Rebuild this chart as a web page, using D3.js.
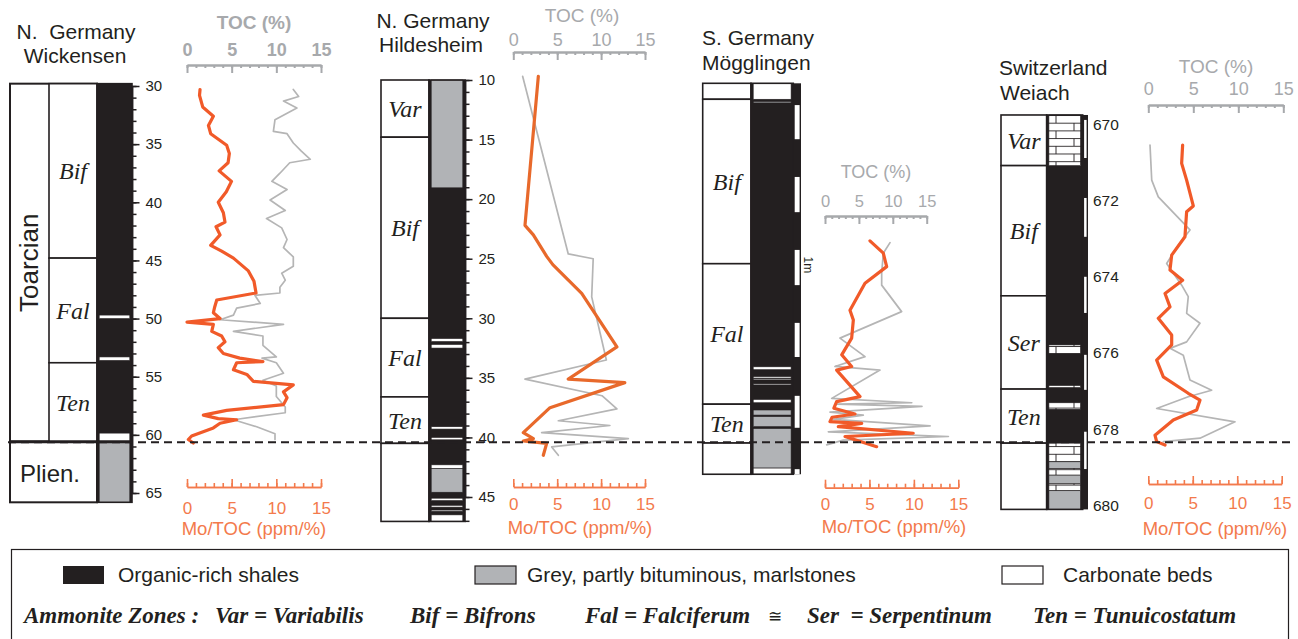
<!DOCTYPE html>
<html>
<head>
<meta charset="utf-8">
<script src="https://cdn.jsdelivr.net/npm/d3@7"></script>
<style>
  body { margin: 0; background: #fff; }
  svg { display: block; }
</style>
</head>
<body>
<div id="chart"></div>
<script>
// ---------------- data ----------------
// lithology / zone rows are [top depth, base depth, type or label]
// curves are [depth, value]

const tocTicks = [0, 5, 10, 15];

// N. Germany, Wickensen (depth in m)
const wickStages = [[29.8, 60.6, "Toarcian"], [60.6, 65.8, "Plien."]];
const wickZones = [[29.8, 44.8, "Bif"], [44.8, 53.8, "Fal"], [53.8, 60.6, "Ten"]];
const wickLitho = [[29.8, 49.7, "shale"], [49.7, 50.0, "carb"], [50.0, 53.3, "shale"], [53.3, 53.6, "carb"],
  [53.6, 59.85, "shale"], [59.85, 60.6, "carb"], [60.6, 65.8, "marl"]];
const wickDepthMajor = [30, 35, 40, 45, 50, 55, 60, 65];
const wickMo = [[30.3, 1.46], [30.8, 1.4], [31.8, 1.76], [32.6, 2.95], [33.4, 2.4], [34.1, 2.65], [35.1, 4.44],
  [35.8, 4.74], [36.6, 4.6], [37.3, 3.6], [38.2, 4.98], [39.1, 4.4], [40.0, 3.5], [40.9, 4.07], [41.7, 4.25],
  [42.1, 3.25], [42.8, 3.7], [43.7, 2.65], [44.2, 3.88], [44.8, 5.2], [45.9, 6.87], [46.8, 7.5], [47.8, 7.73],
  [48.4, 3.33], [49.0, 3.1], [49.5, 2.95], [50.0, 3.7], [50.3, 0], [50.5, 2.95], [51.1, 2.77], [51.5, 3.88],
  [52.0, 4.25], [52.5, 3.5], [53.0, 4.07], [53.4, 5.9], [53.7, 8.5], [53.8, 5.56], [54.4, 5.2], [54.8, 6.7],
  [55.4, 7.43], [55.7, 11.9], [56.3, 10.8], [56.8, 11.2], [57.4, 10.8], [57.9, 4.44], [58.3, 1.83], [58.6, 3.5],
  [58.7, 5.56], [59.0, 3.7], [59.4, 2.95], [60.1, 0.52], [60.4, 0.15], [60.7, 0.7]];
const wickToc = [[30.3, 11.9], [30.9, 12.5], [31.3, 10.8], [31.9, 12.3], [32.9, 9.85], [33.9, 9.67], [34.1, 11.2],
  [34.9, 11.9], [35.6, 12.8], [36.3, 13.8], [36.6, 11.5], [37.5, 10.4], [38.2, 9.5], [38.9, 11.2], [39.8, 9.3],
  [40.7, 11.0], [41.4, 8.9], [42.2, 10.6], [43.2, 11.2], [43.9, 10.8], [44.7, 11.9], [45.5, 11.9], [46.1, 10.6],
  [46.7, 11.0], [47.3, 10.4], [47.8, 10.4], [48.0, 7.6], [48.7, 8.2], [49.1, 5.56], [49.7, 5.2], [50.1, 3.7],
  [50.5, 10.8], [51.1, 5.2], [51.5, 8.5], [52.3, 8.5], [53.3, 10.0], [53.4, 8.4], [53.8, 10.0], [54.7, 10.8],
  [55.3, 8.5], [55.8, 10.0], [56.7, 10.0], [57.6, 11.0], [58.1, 11.0], [58.7, 5.2], [59.3, 7.8], [59.9, 9.85],
  [60.4, 9.85]];

// N. Germany, Hildesheim (depth in m)
const hildZones = [[10, 14.8, "Var"], [14.8, 30, "Bif"], [30, 36.6, "Fal"], [36.6, 40.5, "Ten"], [40.5, 47.05, ""]];
const hildLitho = [[10, 19.05, "marl"], [19.05, 31.7, "shale"], [31.7, 31.95, "carb"], [31.95, 32.2, "shale"],
  [32.2, 32.5, "carb"], [32.5, 39.1, "shale"], [39.1, 39.3, "carb"], [39.3, 40.0, "shale"], [40.0, 40.2, "carb"],
  [40.2, 42.3, "shale"], [42.3, 42.6, "carb"], [42.6, 44.6, "marl"], [44.6, 45.1, "shale"], [45.1, 45.3, "carb"],
  [45.3, 45.7, "shale"], [45.7, 45.85, "carb"], [45.85, 46.1, "shale"], [46.1, 46.2, "carb"], [46.2, 46.5, "shale"],
  [46.5, 47.05, "carb"]];
const hildDepthMajor = [10, 15, 20, 25, 30, 35, 40, 45];
const hildMo = [[9.7, 2.85], [22.2, 1.33], [23.0, 2.28], [24.8, 3.8], [25.5, 4.5], [27.9, 7.79], [32.4, 11.8],
  [35.1, 6.26], [35.4, 12.7], [37.5, 4.18], [39.6, 1.14], [40.1, 2.28], [40.3, 1.14], [40.5, 3.8], [41.5, 3.42]];
const hildToc = [[9.7, 1.07], [24.6, 6.26], [25.0, 9.1], [28.2, 8.93], [33.5, 10.6], [35.1, 1.33], [36.5, 10.1],
  [37.6, 11.8], [38.6, 5.13], [39.0, 11.0], [39.6, 3.23], [40.1, 13.1], [40.8, 4.37], [41.5, 5.13]];

// S. Germany, Mögglingen (m below top of log)
const mogZones = [[0, 0.44, ""], [0.44, 4.97, "Bif"], [4.97, 8.84, "Fal"], [8.84, 9.91, "Ten"], [9.91, 10.77, ""]];
const mogLitho = [[0, 0.44, "carb"], [0.44, 0.5, "shale"], [0.5, 0.54, "marl"], [0.54, 7.81, "shale"],
  [7.81, 7.89, "carb"], [7.89, 8.08, "shale"], [8.08, 8.12, "carb"], [8.12, 8.14, "shale"], [8.14, 8.17, "carb"],
  [8.17, 8.28, "shale"], [8.28, 8.31, "carb"], [8.31, 8.71, "shale"], [8.71, 8.8, "carb"], [8.8, 9.0, "shale"],
  [9.0, 9.14, "marl"], [9.14, 9.18, "shale"], [9.18, 9.46, "marl"], [9.46, 9.51, "shale"], [9.51, 10.6, "marl"],
  [10.6, 10.77, "carb"]];
const mogScaleBar = [[0.6, 1.54], [2.58, 3.55], [4.59, 5.56], [6.6, 7.54], [8.61, 9.49], [10.63, 10.77]];
const mogMo = [[4.34, 5.06], [4.68, 6.56], [5.05, 6.94], [5.51, 4.5], [6.25, 2.81], [6.52, 3.19], [7.02, 3.0],
  [7.48, 1.88], [7.8, 3.0], [7.9, 1.31], [8.63, 3.94], [8.77, 1.31], [8.95, 1.0], [9.11, 3.37], [9.2, 0.8],
  [9.32, 0.56], [9.37, 4.13], [9.46, 1.5], [9.64, 9.93], [9.73, 2.25], [10.01, 5.81]];
const mogToc = [[4.39, 9.59], [4.68, 8.6], [5.23, 8.36], [5.56, 8.36], [6.29, 11.3], [7.02, 2.21], [7.53, 5.9],
  [7.8, 1.47], [7.9, 8.11], [8.68, 0.99], [8.8, 12.8], [8.84, 1.73], [8.9, 14.3], [9.06, 0.74], [9.14, 5.65],
  [9.26, 1.22], [9.44, 15.5], [9.6, 0.49], [9.73, 18.2], [9.83, 2.7], [9.96, 0.25]];

// Switzerland, Weiach (depth in m)
const weiZones = [[669.75, 671.08, "Var"], [671.08, 674.5, "Bif"], [674.5, 676.95, "Ser"], [676.95, 678.37, "Ten"],
  [678.37, 680.11, ""]];
const weiLitho = [[669.75, 671.08, "carb"], [671.08, 675.79, "shale"], [675.79, 676.01, "carb"],
  [676.01, 676.85, "shale"], [676.85, 676.91, "carb"], [676.91, 677.31, "shale"], [677.31, 677.48, "carb"],
  [677.48, 678.37, "shale"], [678.37, 678.86, "carb"], [678.86, 679.04, "marl"], [679.04, 679.21, "carb"],
  [679.21, 679.44, "marl"], [679.44, 679.62, "carb"], [679.62, 680.11, "marl"]];
const weiScaleBar = [[669.88, 670.88], [671.93, 672.95], [674.0, 674.95], [676.05, 676.97], [678.07, 679.05]];
const weiDepthLabels = [670, 672, 674, 676, 678, 680];
const weiMo = [[670.54, 3.86], [671.02, 3.75], [671.46, 4.31], [672.14, 5.06], [672.29, 4.31], [672.95, 4.12],
  [673.43, 2.63], [673.82, 2.44], [674.09, 3.86], [674.44, 1.88], [674.79, 2.44], [675.09, 1.12], [675.53, 2.63],
  [675.79, 2.63], [676.19, 0.94], [676.63, 1.69], [677.06, 4.49], [677.24, 5.81], [677.5, 5.44], [677.76, 2.81],
  [678.16, 0.75], [678.33, 0.94], [678.42, 1.88]];
const weiToc = [[670.54, 0.19], [671.46, 0.38], [671.9, 1.11], [672.77, 4.63], [673.17, 3.33], [673.65, 2.04],
  [674.22, 3.71], [674.52, 4.44], [674.96, 4.26], [675.22, 5.74], [675.71, 4.26], [675.88, 2.41], [676.06, 3.89],
  [676.71, 4.63], [676.98, 7.04], [677.15, 4.44], [677.46, 0.93], [677.81, 9.63], [678.24, 5.74], [678.33, 1.67]];

const legendLith = [["shale", "Organic-rich shales"], ["marl", "Grey, partly bituminous, marlstones"],
  ["carb", "Carbonate beds"]];
const legendZones = ["Ammonite Zones :", "Var = Variabilis", "Bif = Bifrons", "Fal = Falciferum", "\u2245",
  "Ser\u00a0 = Serpentinum", "Ten = Tunuicostatum"];

// ---------------- style ----------------
const INK = "#231f20";
const FILL = { shale: "#231f20", marl: "#b1b3b6", carb: "#ffffff" };
const GREY_AXIS = "#a7a9ac", GREY_LINE = "#b5b5b5";
const ORANGE = "#f15a29", ORANGE_AXIS = "#f37a4c";
const SANS = "'Liberation Sans', Arial, sans-serif";
const SERIF = "'Liberation Serif', 'Times New Roman', serif";

const svg = d3.select("#chart").append("svg").attr("width", 1298).attr("height", 639);

// brick pattern for the Weiach carbonates
const brick = svg.append("defs").append("pattern")
  .attr("id", "brick").attr("patternUnits", "userSpaceOnUse")
  .attr("width", 36).attr("height", 15.4).attr("patternTransform", "translate(1047,115)");
brick.append("rect").attr("width", 36).attr("height", 15.4).attr("fill", "#fff");
brick.append("path")
  .attr("d", "M0,0.5H36M0,8.2H36M9,0.5V8.2M27,8.2V15.4")
  .attr("stroke", INK).attr("stroke-width", 0.9).attr("fill", "none");

// ---------------- helpers ----------------
function label(x, y, str, opt) {
  opt = opt || {};
  return svg.append("text")
    .attr("x", x).attr("y", y)
    .attr("text-anchor", opt.anchor || "start")
    .attr("font-family", opt.family || SANS)
    .attr("font-size", opt.size || 21)
    .attr("font-weight", opt.weight || null)
    .attr("font-style", opt.style || null)
    .attr("fill", opt.color || INK)
    .text(str);
}

function drawZones(zones, y, x0, x1) {
  const g = svg.append("g");
  g.selectAll("rect").data(zones).join("rect")
    .attr("x", x0).attr("width", x1 - x0)
    .attr("y", d => y(d[0])).attr("height", d => y(d[1]) - y(d[0]))
    .attr("fill", "#fff").attr("stroke", INK).attr("stroke-width", 1.6);
  g.selectAll("text").data(zones.filter(d => d[2])).join("text")
    .attr("x", (x0 + x1) / 2).attr("y", d => y((d[0] + d[1]) / 2))
    .attr("dy", "0.35em").attr("text-anchor", "middle")
    .attr("font-family", SERIF).attr("font-style", "italic").attr("font-size", 24)
    .attr("fill", INK)
    .text(d => d[2]);
}

function drawLitho(litho, y, x0, x1, carbFill) {
  const g = svg.append("g");
  const top = litho[0][0], base = litho[litho.length - 1][1];
  g.append("rect").attr("x", x0).attr("y", y(top)).attr("width", x1 - x0).attr("height", y(base) - y(top))
    .attr("fill", FILL.shale);
  g.selectAll("rect.bed").data(litho.filter(d => d[2] !== "shale")).join("rect")
    .attr("class", "bed")
    .attr("x", x0 + 2.2).attr("width", x1 - x0 - 4.4)
    .attr("y", d => y(d[0])).attr("height", d => Math.max(1, y(d[1]) - y(d[0])))
    .attr("fill", d => d[2] === "carb" ? carbFill : FILL[d[2]])
    .attr("stroke", INK).attr("stroke-width", 0.6);
  g.append("rect").attr("x", x0).attr("y", y(top)).attr("width", x1 - x0).attr("height", y(base) - y(top))
    .attr("fill", "none").attr("stroke", INK).attr("stroke-width", 1.6);
}

function drawScaleBar(bars, y, x0, x1, top, base) {
  const g = svg.append("g");
  g.append("rect").attr("x", x0).attr("y", y(top)).attr("width", x1 - x0).attr("height", y(base) - y(top))
    .attr("fill", INK);
  g.selectAll("rect.w").data(bars).join("rect").attr("class", "w")
    .attr("x", x0 + 1.4).attr("width", x1 - x0 - 2.8)
    .attr("y", d => y(d[0])).attr("height", d => y(d[1]) - y(d[0]))
    .attr("fill", "#fff");
}

function depthAxis(y, xPos, minorVals, majorVals) {
  const a1 = svg.append("g").attr("transform", `translate(${xPos},0)`)
    .call(d3.axisRight(y).tickValues(minorVals).tickSize(4.5).tickSizeOuter(0).tickFormat(""));
  const a2 = svg.append("g").attr("transform", `translate(${xPos},0)`)
    .call(d3.axisRight(y).tickValues(majorVals).tickSize(7.5).tickSizeOuter(0).tickPadding(6));
  [a1, a2].forEach(a => a.selectAll("path, line").attr("stroke", INK).attr("stroke-width", 1.5));
  a2.selectAll("text").attr("font-family", SANS).attr("font-size", 15).attr("fill", INK);
}

function tocAxis(x, yPos, pad, bold, size) {
  const a1 = svg.append("g").attr("transform", `translate(0,${yPos})`)
    .call(d3.axisTop(x).tickValues(d3.range(0, 16)).tickSizeInner(-3).tickSizeOuter(0).tickFormat(""));
  const a2 = svg.append("g").attr("transform", `translate(0,${yPos})`)
    .call(d3.axisTop(x).tickValues(tocTicks).tickSizeInner(-8).tickSizeOuter(0).tickPadding(pad));
  [a1, a2].forEach(a => a.selectAll("path, line").attr("stroke", GREY_AXIS).attr("stroke-width", 2));
  a2.selectAll("text").attr("font-family", SANS).attr("font-size", size || 18)
    .attr("font-weight", bold ? "bold" : null).attr("fill", GREY_AXIS);
}

function moAxis(x, yPos, pad) {
  const a1 = svg.append("g").attr("transform", `translate(0,${yPos})`)
    .call(d3.axisBottom(x).tickValues(d3.range(0, 16)).tickSizeInner(-4).tickSizeOuter(0).tickFormat(""));
  const a2 = svg.append("g").attr("transform", `translate(0,${yPos})`)
    .call(d3.axisBottom(x).tickValues(tocTicks).tickSizeInner(-8).tickSizeOuter(0).tickPadding(pad));
  [a1, a2].forEach(a => a.selectAll("path, line").attr("stroke", ORANGE_AXIS).attr("stroke-width", 1.6));
  a2.selectAll("text").attr("font-family", SANS).attr("font-size", 17).attr("fill", ORANGE_AXIS);
}

function curve(data, x, y, color, width) {
  svg.append("path").datum(data)
    .attr("d", d3.line().x(d => x(d[1])).y(d => y(d[0])))
    .attr("fill", "none").attr("stroke", color).attr("stroke-width", width)
    .attr("stroke-linejoin", "round").attr("stroke-linecap", "round");
}

// ---------------- Wickensen ----------------
const yW = d3.scaleLinear().domain([30, 65]).range([86, 493]);
const xWtoc = d3.scaleLinear().domain([0, 15]).range([187, 321]);
const xWmo = d3.scaleLinear().domain([0, 15]).range([187, 321]);

label(76, 39, "N.\u00a0 Germany", { anchor: "middle" });
label(75, 63, "Wickensen", { anchor: "middle" });

svg.append("g").selectAll("rect").data(wickStages).join("rect")
  .attr("x", 10).attr("width", 87)
  .attr("y", d => yW(d[0])).attr("height", d => yW(d[1]) - yW(d[0]))
  .attr("fill", "#fff").attr("stroke", INK).attr("stroke-width", 2);
drawZones(wickZones, yW, 49, 97);
drawLitho(wickLitho, yW, 97, 132, FILL.carb);
svg.append("line").attr("x1", 10).attr("x2", 132)
  .attr("y1", yW(wickStages[1][0])).attr("y2", yW(wickStages[1][0]))
  .attr("stroke", INK).attr("stroke-width", 3);
svg.append("text")
  .attr("transform", `translate(38,${yW((wickStages[0][0] + wickStages[0][1]) / 2)}) rotate(-90)`)
  .attr("text-anchor", "middle").attr("font-family", SANS).attr("font-size", 26).attr("fill", INK)
  .text(wickStages[0][2]);
label(50, 482, wickStages[1][2], { anchor: "middle", size: 24 });
depthAxis(yW, 132, d3.range(30, 66), wickDepthMajor);

label(254, 29, "TOC (%)", { anchor: "middle", size: 19, weight: "bold", color: GREY_AXIS });
tocAxis(xWtoc, 65, 9, true, 18);
curve(wickToc, xWtoc, yW, GREY_LINE, 1.7);
curve(wickMo, xWmo, yW, ORANGE, 3.2);
moAxis(xWmo, 487, 15);
label(254, 535, "Mo/TOC (ppm/%)", { anchor: "middle", size: 18.5, color: ORANGE_AXIS });

// ---------------- Hildesheim ----------------
const yH = d3.scaleLinear().domain([10, 45]).range([80, 497]);
const xHtoc = d3.scaleLinear().domain([0, 15]).range([513.3, 645]);
const xHmo = d3.scaleLinear().domain([0, 15]).range([513.3, 645]);

label(433, 28, "N. Germany", { anchor: "middle" });
label(431, 52, "Hildesheim", { anchor: "middle" });
drawZones(hildZones, yH, 381, 429);
drawLitho(hildLitho, yH, 429, 465, FILL.carb);
depthAxis(yH, 465, d3.range(10, 48), hildDepthMajor);

label(582, 22, "TOC (%)", { anchor: "middle", size: 19, color: GREY_AXIS });
tocAxis(xHtoc, 52, 6, false, 18);
curve(hildToc, xHtoc, yH, GREY_LINE, 1.7);
curve(hildMo, xHmo, yH, "#e8692b", 3.2);
moAxis(xHmo, 487, 11);
label(580, 534, "Mo/TOC (ppm/%)", { anchor: "middle", size: 18.5, color: ORANGE_AXIS });

// ---------------- Mögglingen ----------------
const yM = d3.scaleLinear().domain([0, 10]).range([83.3, 446.3]);
const xMtoc = d3.scaleLinear().domain([0, 15]).range([825, 926.7]);
const xMmo = d3.scaleLinear().domain([0, 15]).range([825, 958.3]);

label(702, 45, "S. Germany");
label(702, 70, "Mögglingen");
drawZones(mogZones, yM, 702.7, 751);
drawLitho(mogLitho, yM, 751, 793.3, FILL.carb);
drawScaleBar(mogScaleBar, yM, 793.3, 801, mogLitho[0][0], mogLitho[mogLitho.length - 1][1]);
svg.append("text")
  .attr("transform", `translate(804,${yM(5.0)}) rotate(90)`)
  .attr("text-anchor", "middle").attr("font-family", SANS).attr("font-size", 12).attr("fill", INK)
  .text("1m");

label(876, 178, "TOC (%)", { anchor: "middle", size: 18, color: GREY_AXIS });
tocAxis(xMtoc, 216, 9, false, 16.5);
curve(mogToc, xMtoc, yM, GREY_LINE, 1.7);
curve(mogMo, xMmo, yM, ORANGE, 3.2);
moAxis(xMmo, 487.7, 10);
label(894, 533, "Mo/TOC (ppm/%)", { anchor: "middle", size: 18.5, color: ORANGE_AXIS });

// ---------------- Weiach ----------------
const yS = d3.scaleLinear().domain([670, 680]).range([124.5, 505.2]);
const xStoc = d3.scaleLinear().domain([0, 15]).range([1148.3, 1283.3]);
const xSmo = d3.scaleLinear().domain([0, 15]).range([1148.3, 1281.7]);

label(999, 75, "Switzerland");
label(1000, 100, "Weiach");
drawZones(weiZones, yS, 1001, 1046.7);
drawLitho(weiLitho, yS, 1046.7, 1082.7, "url(#brick)");
drawScaleBar(weiScaleBar, yS, 1082.7, 1088, weiLitho[0][0], weiLitho[weiLitho.length - 1][1]);
const aS = svg.append("g").attr("transform", "translate(1088,0)")
  .call(d3.axisRight(yS).tickValues(weiDepthLabels).tickSize(0).tickPadding(5));
aS.select(".domain").remove();
aS.selectAll("text").attr("font-family", SANS).attr("font-size", 15.5).attr("fill", INK);

label(1216, 73, "TOC (%)", { anchor: "middle", size: 19, color: GREY_AXIS });
tocAxis(xStoc, 105, 10, false, 18);
curve(weiToc, xStoc, yS, GREY_LINE, 1.7);
curve(weiMo, xSmo, yS, ORANGE, 3.2);
moAxis(xSmo, 484, 13);
label(1215, 535, "Mo/TOC (ppm/%)", { anchor: "middle", size: 18.5, color: ORANGE_AXIS });

// ---------------- Toarcian base correlation line ----------------
svg.append("line")
  .attr("x1", 8).attr("x2", 1292)
  .attr("y1", yW(60.63)).attr("y2", yW(60.63))
  .attr("stroke", INK).attr("stroke-width", 2).attr("stroke-dasharray", "8,5");

// ---------------- legend ----------------
svg.append("rect").attr("x", 11.5).attr("y", 549.5).attr("width", 1277).attr("height", 100)
  .attr("fill", "none").attr("stroke", INK).attr("stroke-width", 1.2);
const swatchX = [63, 475, 1002];
const legendTextX = [118, 527, 1063];
legendLith.forEach((d, i) => {
  svg.append("rect").attr("x", swatchX[i]).attr("y", 566).attr("width", 41).attr("height", 18)
    .attr("fill", FILL[d[0]]).attr("stroke", INK).attr("stroke-width", d[0] === "shale" ? 0 : 1.2);
  label(legendTextX[i], 582, d[1], { size: 21 });
});
const zoneLegendX = [24, 215, 410, 585, 768, 807, 1033];
legendZones.forEach((t, i) => {
  if (t === "\u2245") {
    label(zoneLegendX[i], 622, t, { size: 17, color: INK });
  } else {
    label(zoneLegendX[i], 623, t, { family: SERIF, style: "italic", weight: "bold", size: 23 });
  }
});
</script>
</body>
</html>
